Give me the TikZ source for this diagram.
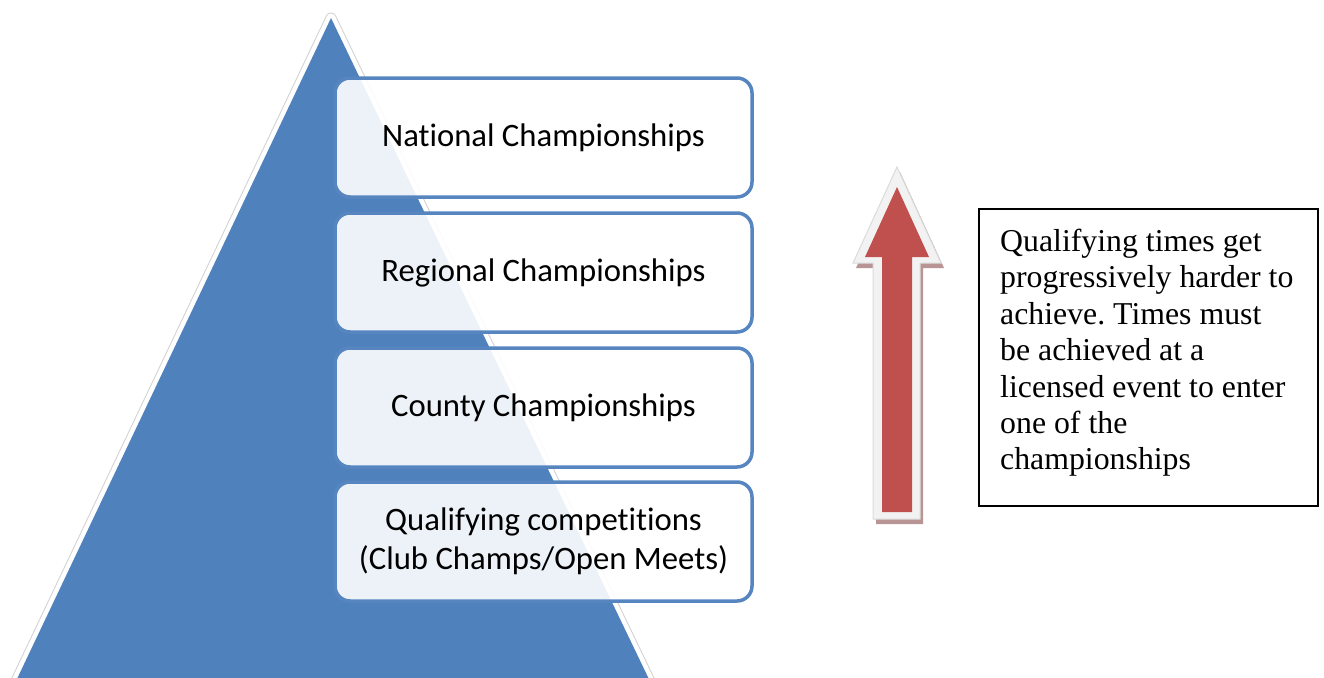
\documentclass[tikz,border=0pt]{standalone}
\usepackage{fontspec}
\newfontfamily\calfont[Ligatures=NoCommon]{Carlito}
\newfontfamily\timesfont{Liberation Serif}
\definecolor{pyrblue}{HTML}{4F81BD}
\definecolor{boxblue}{HTML}{5685C0}
\definecolor{arrred}{HTML}{C0504D}
\definecolor{arrshadow}{HTML}{B89494}
\definecolor{arrrim}{HTML}{F2F2F2}
\frenchspacing
\begin{document}
\begin{tikzpicture}[x=1pt,y=-1pt,
  level/.style={draw=boxblue, line width=3.5pt, fill=white, fill opacity=0.9, text opacity=1,
    rounded corners=15pt, minimum width=417pt, minimum height=119pt, inner sep=0pt,
    font=\calfont\fontsize{32.7}{39}\selectfont, align=center, text=black},
  note/.style={draw=black, line width=2pt, minimum width=339pt, minimum height=297pt, inner sep=0pt}
]
\useasboundingbox (0,0) rectangle (1324,677);
% pyramid
\coordinate (apex) at (331,18);
\coordinate (bl) at (7,700);
\coordinate (br) at (659,700);
\draw[gray!35, line width=11pt, line join=round] (apex) -- (bl) -- (br) -- cycle;
\draw[white, line width=9pt, line join=round] (apex) -- (bl) -- (br) -- cycle;
\fill[pyrblue] (apex) -- (bl) -- (br) -- cycle;
% levels
\node[level] (nat) at (543.5,137.5) {National Championships};
\node[level] (reg) at (543.5,272.5) {Regional Championships};
\node[level] (cty) at (543.5,407.5) {County Championships};
\node[level] (qual) at (543.5,541.5) {Qualifying competitions\\(Club Champs/Open Meets)};
% arrow
\begin{scope}[shift={(3,5)}]
\fill[arrshadow] (897,167) -- (941,263) -- (920,263) -- (920,519) -- (873,519) -- (873,263) -- (853,263) -- cycle;
\end{scope}
\draw[arrrim!80!gray, line width=1pt, fill=arrrim] (897,167) -- (941,263) -- (920,263) -- (920,519) -- (873,519) -- (873,263) -- (853,263) -- cycle;
\fill[arrred] (897,187) -- (929,257) -- (912,257) -- (912,512) -- (882,512) -- (882,257) -- (865,257) -- cycle;
% note
\node[note] (box) at (1148.5,357.5) {};
\node[anchor=north west, inner sep=0pt, align=left, font=\timesfont\fontsize{31.8}{36.4}\selectfont] (txt) at (1000,229)
 {Qualifying times get\\progressively harder to\\achieve. Times must\\be achieved at a\\licensed event to enter\\one of the\\championships};
\end{tikzpicture}
\end{document}
